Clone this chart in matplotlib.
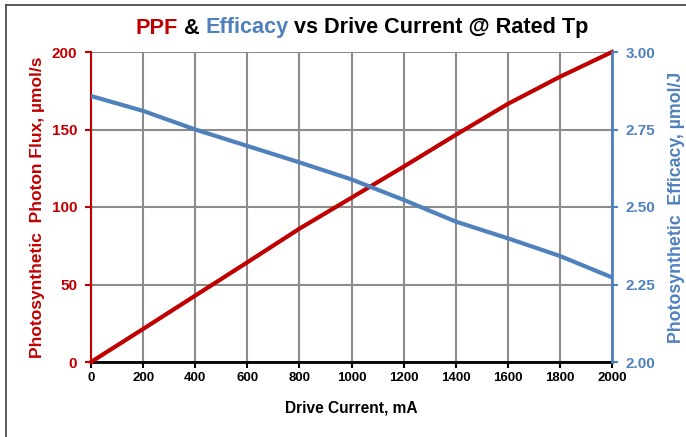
import numpy as np
import matplotlib.pyplot as plt
from matplotlib.lines import Line2D

plt.rcParams['font.family'] = ['Liberation Sans', 'DejaVu Sans']

# data
current_ma = [0, 200, 400, 600, 800, 1000, 1200, 1400, 1600, 1800, 2000]
ppf = [0, 21.3, 42.8, 64.3, 86.0, 106.0, 126.0, 146.5, 166.5, 184.0, 200.0]
efficacy = [2.858, 2.810, 2.750, 2.697, 2.644, 2.589, 2.523, 2.453, 2.399, 2.342, 2.273]

RED = "#C00000"
BLUE = "#4F81BD"
GRID = "#8C8C8C"

W, H = 686, 437
fig = plt.figure(figsize=(W / 100, H / 100), dpi=100)
ax = fig.add_axes([91 / W, 1 - 362 / H, (612 - 91) / W, (362 - 52) / H])
ax2 = ax.twinx()

ax.set_xlim(0, 2000)
ax.set_ylim(0, 200)
ax2.set_ylim(2.0, 3.0)

ax.set_xticks(range(0, 2001, 200))
ax.set_yticks(range(0, 201, 50))
ax2.set_yticks([2.0, 2.25, 2.5, 2.75, 3.0])
ax2.set_yticklabels([f"{v:.2f}" for v in [2.0, 2.25, 2.5, 2.75, 3.0]])

ax.grid(True, color=GRID, linewidth=1.5)
ax.set_axisbelow(True)

ax.plot(current_ma, ppf, color=RED, linewidth=3, zorder=3, clip_on=False)
ax2.plot(current_ma, efficacy, color=BLUE, linewidth=3, zorder=3)

for a in (ax, ax2):
    a.spines['top'].set_visible(False)
ax.spines['left'].set_color(RED)
ax.spines['left'].set_linewidth(1.5)
ax.spines['bottom'].set_color("black")
ax.spines['bottom'].set_linewidth(2)
ax.spines['right'].set_visible(False)
ax2.spines['left'].set_visible(False)
ax2.spines['bottom'].set_visible(False)
ax2.spines['right'].set_color(BLUE)
ax2.spines['right'].set_linewidth(2)

ax.tick_params(axis='y', colors=RED, length=4, width=1.5, labelsize=11, pad=6)
ax.tick_params(axis='x', colors="black", length=4, width=1.5, labelsize=9.5, pad=3)
ax2.tick_params(axis='y', colors=BLUE, length=4, width=1.5, labelsize=11, pad=6)
for lbl in ax.get_xticklabels() + ax.get_yticklabels() + ax2.get_yticklabels():
    lbl.set_fontweight('bold')

ax.set_xlabel("Drive Current, mA", fontsize=11.2, fontweight='bold', labelpad=12)
ax.set_ylabel("Photosynthetic  Photon Flux, µmol/s", fontsize=12.5, fontweight='bold',
              color=RED, labelpad=5)
ax2.set_ylabel("Photosynthetic  Efficacy, µmol/J", fontsize=12.8, fontweight='bold',
               color=BLUE, labelpad=9)

# multicoloured title
parts = [("PPF", RED), (" & ", "black"), ("Efficacy", BLUE),
         (" vs Drive Current @ Rated Tp", "black")]
renderer = fig.canvas.get_renderer()
texts = []
x = 0
for s, c in parts:
    t = fig.text(x, 1 - 28 / H, s, color=c, fontsize=15.6, fontweight='bold',
                 va='center', ha='left')
    texts.append(t)
    x += t.get_window_extent(renderer).width / W
total = x
start = 362 / W - total / 2
x = start
for t in texts:
    t.set_x(x)
    x += t.get_window_extent(renderer).width / W

# chart frame (top and left edges visible)
fig.add_artist(Line2D([6 / W, 1], [1 - 5 / H, 1 - 5 / H], color="#404040", linewidth=1.2))
fig.add_artist(Line2D([6 / W, 6 / W], [0, 1 - 5 / H], color="#404040", linewidth=1.2))

fig.savefig("out.png", dpi=100)
